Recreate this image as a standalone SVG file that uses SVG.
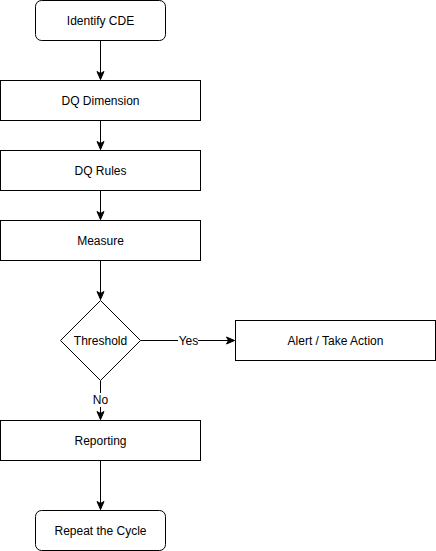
<svg xmlns="http://www.w3.org/2000/svg" width="436" height="551" viewBox="0 0 436 551">
<style>
.box{fill:#fff;stroke:#000;stroke-width:1}
.t{font-family:"Liberation Sans",Arial,sans-serif;font-size:12px;fill:#000;text-anchor:middle;dominant-baseline:central}
.e{fill:none;stroke:#000;stroke-width:1}
</style>
<defs>
<marker id="a" markerUnits="userSpaceOnUse" markerWidth="10" markerHeight="10" viewBox="0 0 10 10" refX="9" refY="5" orient="auto">
<path d="M1,1.5 L9,5 L1,8.5 L3,5 Z" fill="#000" stroke="#000" stroke-width="1"/>
</marker>
</defs>
<rect width="436" height="551" fill="#fff"/>
<g id="edges">
<path class="e" d="M100.5,40.5 V79.5" marker-end="url(#a)"/>
<path class="e" d="M100.5,120.5 V149.5" marker-end="url(#a)"/>
<path class="e" d="M100.5,190.5 V219.5" marker-end="url(#a)"/>
<path class="e" d="M100.5,260.5 V299.5" marker-end="url(#a)"/>
<path class="e" d="M140.5,340.5 H234.5" marker-end="url(#a)"/>
<path class="e" d="M100.5,380.5 V419.5" marker-end="url(#a)"/>
<path class="e" d="M100.5,460.5 V509.5" marker-end="url(#a)"/>
<rect x="178" y="333" width="20" height="14" fill="#fff"/>
<text class="t" x="188.5" y="340.5">Yes</text>
<rect x="92" y="393" width="17" height="14" fill="#fff"/>
<text class="t" x="100.5" y="400">No</text>
</g>
<g id="identify"><rect class="box" x="35.5" y="0.5" width="130" height="40" rx="6"/><text class="t" x="100.5" y="20.5">Identify CDE</text></g>
<g id="dimension"><rect class="box" x="0.5" y="80.5" width="200" height="40"/><text class="t" x="100.5" y="100.5">DQ Dimension</text></g>
<g id="rules"><rect class="box" x="0.5" y="150.5" width="200" height="40"/><text class="t" x="100.5" y="170.5">DQ Rules</text></g>
<g id="measure"><rect class="box" x="0.5" y="220.5" width="200" height="40"/><text class="t" x="100.5" y="240.5">Measure</text></g>
<g id="threshold"><path class="box" d="M100.5,300.5 L140.5,340.5 L100.5,380.5 L60.5,340.5 Z"/><text class="t" x="100.5" y="340.5">Threshold</text></g>
<g id="alert"><rect class="box" x="235.5" y="320.5" width="200" height="40"/><text class="t" x="335.5" y="340.5">Alert / Take Action</text></g>
<g id="reporting"><rect class="box" x="0.5" y="420.5" width="200" height="40"/><text class="t" x="100.5" y="440.5">Reporting</text></g>
<g id="repeat"><rect class="box" x="35.5" y="510.5" width="130" height="40" rx="6"/><text class="t" x="100.5" y="530.5">Repeat the Cycle</text></g>
</svg>
